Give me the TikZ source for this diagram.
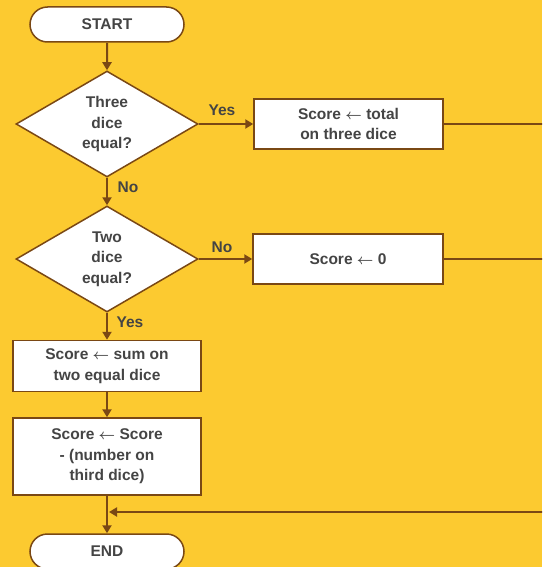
\documentclass[tikz,border=0pt]{standalone}
\usepackage{fontspec}
\setmainfont{Liberation Sans}
\usetikzlibrary{shapes.geometric,shapes.misc,arrows.meta}
\definecolor{bg}{RGB}{252,202,48}
\definecolor{ln}{RGB}{122,72,20}
\definecolor{tx}{RGB}{68,68,68}
\newcommand{\larr}{{\boldmath$\leftarrow$}}
\begin{document}
\begin{tikzpicture}[x=1pt,y=-1pt,
  every node/.style={font=\fontsize{15.5}{20.5}\selectfont\bfseries, text=tx},
  term/.style={draw=ln, line width=1.5pt, fill=white, rounded rectangle, minimum width=154pt, minimum height=35pt, inner sep=0pt},
  dec/.style={draw=ln, line width=1.5pt, fill=white, diamond, minimum width=182pt, minimum height=106pt, align=center, inner sep=0pt},
  proc/.style={draw=ln, line width=1.5pt, fill=white, align=center, inner sep=0pt},
  conn/.style={draw=ln, line width=2pt, -{Triangle[width=9pt,length=8pt]}},
  plain/.style={draw=ln, line width=2pt},
  lbl/.style={inner sep=0pt}]
\fill[bg] (0,0) rectangle (542,567);
\useasboundingbox (0,0) rectangle (542,567);
\clip (0,0) rectangle (542,567);

\node[term] (start) at (107,24.5) {START};
\node[dec] (d1) at (107,124) {Three\\dice\\equal?};
\node[proc, minimum width=189pt, minimum height=50pt] (b1) at (348.5,124) {Score \larr{} total\\on three dice};
\node[dec] (d2) at (107,259) {Two\\dice\\equal?};
\node[proc, minimum width=190pt, minimum height=50pt] (b2) at (348,259) {Score \larr{} 0};
\node[proc, minimum width=188pt, minimum height=51pt] (b3) at (107,366) {Score \larr{} sum on\\two equal dice};
\node[proc, minimum width=188pt, minimum height=77pt] (b4) at (107,456.5) {Score \larr{} Score\\- (number on\\third dice)};
\node[term] (end) at (107,551.5) {END};

\coordinate (r1) at (550,124);
\coordinate (r2) at (550,259);
\coordinate (r3) at (550,512);
\coordinate (mr) at (109,512);

\draw[conn] (start) -- (d1);
\draw[conn] (d1.east) -- (b1.west);
\draw[conn] (d1.south) -- (d2.north);
\draw[conn] (d2.east) -- (b2.west);
\draw[conn] (d2.south) -- (b3.north);
\draw[conn] (b3) -- (b4);
\draw[conn] (b4) -- (end);
\draw[plain] (b1.east) -- (r1);
\draw[plain] (b2.east) -- (r2);
\draw[conn] (r3) -- (mr);

\node[lbl] (l1) at (222,110) {Yes};
\node[lbl] (l2) at (128,187) {No};
\node[lbl] (l3) at (222,247) {No};
\node[lbl] (l4) at (130,322) {Yes};
\end{tikzpicture}
\end{document}
